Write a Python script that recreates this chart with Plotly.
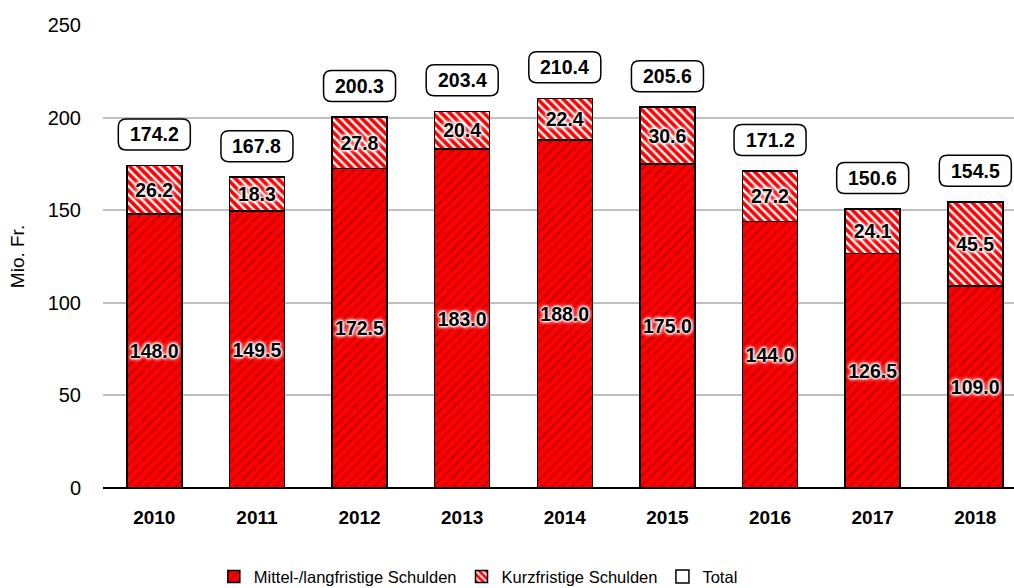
import plotly.graph_objects as go

years = ["2010", "2011", "2012", "2013", "2014", "2015", "2016", "2017", "2018"]
mittel = [148.0, 149.5, 172.5, 183.0, 188.0, 175.0, 144.0, 126.5, 109.0]
kurz = [26.2, 18.3, 27.8, 20.4, 22.4, 30.6, 27.2, 24.1, 45.5]
total = [174.2, 167.8, 200.3, 203.4, 210.4, 205.6, 171.2, 150.6, 154.5]

FONT = "Liberation Sans, Arial, sans-serif"
halo = "0 0 2px #fff, 0 0 2px #fff, 0 0 3px #fff, 0 0 3px #fff, 0 0 4px #fff, 0 0 5px #fff"

fig = go.Figure()
fig.add_trace(go.Bar(
    x=years, y=mittel, name="Mittel-/langfristige Schulden",
    marker=dict(color="#ff0000", line=dict(color="#000000", width=1.5),
                pattern=dict(shape="/", fgcolor="#c00000", bgcolor="#ff0000",
                             size=7, solidity=0.25, fillmode="replace")),
    text=[f"{v:.1f}" for v in mittel], textposition="inside",
    insidetextanchor="middle", textangle=0, constraintext="none",
    textfont=dict(family=FONT, size=19.5, color="#000000", weight="bold", shadow=halo),
))
fig.add_trace(go.Bar(
    x=years, y=kurz, name="Kurzfristige Schulden",
    marker=dict(color="#ff0000", line=dict(color="#000000", width=1.5),
                pattern=dict(shape="\\", fgcolor="#ffffff", bgcolor="#ff0000",
                             size=6, solidity=0.4, fillmode="replace")),
    text=[f"{v:.1f}" for v in kurz], textposition="inside",
    insidetextanchor="middle", textangle=0, constraintext="none",
    textfont=dict(family=FONT, size=19.5, color="#000000", weight="bold", shadow=halo),
))
fig.add_trace(go.Scatter(
    x=[None], y=[None], mode="markers", name="Total",
    marker=dict(symbol="square", size=13, color="#ffffff",
                line=dict(color="#000000", width=1.5)),
))

# Total label boxes (rounded rectangles, pixel-sized, anchored at the data value)
w, h, r, cy = 36, 15.5, 8, 31
rounded = (f"M {-w+r},{cy-h} L {w-r},{cy-h} Q {w},{cy-h} {w},{cy-h+r} L {w},{cy+h-r} "
           f"Q {w},{cy+h} {w-r},{cy+h} L {-w+r},{cy+h} Q {-w},{cy+h} {-w},{cy+h-r} "
           f"L {-w},{cy-h+r} Q {-w},{cy-h} {-w+r},{cy-h} Z")
for i, t in enumerate(total):
    fig.add_shape(type="path", xref="x", yref="y", xsizemode="pixel", ysizemode="pixel",
                  xanchor=i, yanchor=t, path=rounded,
                  line=dict(color="#000000", width=1.5), fillcolor="#ffffff", layer="above")
    fig.add_annotation(x=i, y=t, text=f"<b>{t:.1f}</b>", showarrow=False,
                       yshift=cy, yanchor="middle",
                       font=dict(family=FONT, size=19.5, color="#000000"))

fig.update_layout(
    barmode="stack", bargap=0.465,
    width=1014, height=588,
    margin=dict(l=103, r=0, t=25, b=100, autoexpand=False),
    paper_bgcolor="#ffffff", plot_bgcolor="#ffffff",
    font=dict(family=FONT, size=17, color="#000000"),
    showlegend=True,
    legend=dict(orientation="h", x=0.412, xanchor="center", y=-0.192, yanchor="middle",
                traceorder="normal",
                font=dict(family=FONT, size=16.5, color="#000000"),
                itemwidth=30, tracegroupgap=0, bgcolor="rgba(0,0,0,0)"),
    xaxis=dict(type="category", range=[-0.5, 8.377], showgrid=False,
               tickfont=dict(family=FONT, size=19, color="#000000", weight="bold"),
               ticks="", ticklabelstandoff=16, showline=False, zeroline=False),
    yaxis=dict(range=[0, 250], tickvals=[0, 50, 100, 150, 200, 250],
               showgrid=True, gridcolor="#c0c0c0", gridwidth=1.5,
               zeroline=True, zerolinecolor="#000000", zerolinewidth=1.5,
               ticks="", ticklabelstandoff=21,
               tickfont=dict(family=FONT, size=20, color="#000000"),
               title=dict(text="Mio. Fr.", standoff=17,
                          font=dict(family=FONT, size=19, color="#000000"))),
)

fig.write_html("out.html", config={"displayModeBar": False},
               post_script="document.body.style.margin='0';document.body.style.padding='0';"
                           "document.documentElement.style.overflow='hidden';")
